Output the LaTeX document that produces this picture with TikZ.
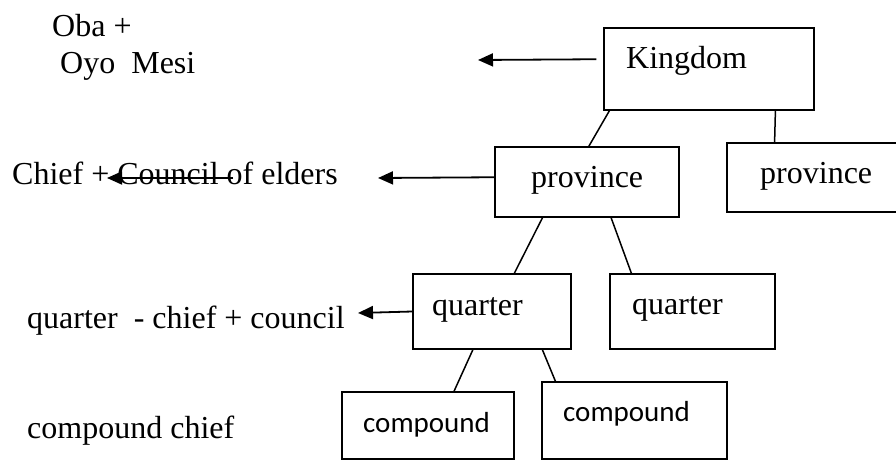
\documentclass[tikz,border=0pt]{standalone}
\usepackage{fontspec}
\setmainfont{Liberation Serif}
\newfontfamily\calib{Carlito}
\usetikzlibrary{arrows.meta,calc}
\begin{document}
\begin{tikzpicture}[x=1pt,y=-1pt,
  box/.style={draw,line width=1.5pt,rectangle,inner sep=0pt},
  lbl/.style={anchor=base west,inner sep=0pt,font=\fontsize{32}{38}\selectfont},
  clbl/.style={anchor=base west,inner sep=0pt,font=\calib\fontsize{29}{35}\selectfont},
  link/.style={line width=1.5pt},
  arr/.style={line width=1.8pt,-{Triangle[length=15pt,width=13pt]}}]
\useasboundingbox (0,0) rectangle (896,460);
\begin{scope}
\clip (0,0) rectangle (896,460);
% boxes
\node[box,minimum width=210pt,minimum height=82pt] (K) at (709,69) {};
\node[box,minimum width=184pt,minimum height=70pt] (P1) at (587,182) {};
\node[box,minimum width=183pt,minimum height=69pt] (P2) at (818.5,177.5) {};
\node[box,minimum width=158pt,minimum height=75pt] (Q1) at (492,311.5) {};
\node[box,minimum width=165pt,minimum height=75pt] (Q2) at (692.5,311.5) {};
\node[box,minimum width=172pt,minimum height=67pt] (C1) at (428,425.5) {};
\node[box,minimum width=185pt,minimum height=77pt] (C2) at (634.5,420.5) {};
\end{scope}
% box texts
\node[lbl] (tK) at (626,68) {Kingdom};
\node[lbl] (tP1) at (531,187) {province};
\node[lbl] (tP2) at (760,183) {province};
\node[lbl] (tQ1) at (432,315) {quarter};
\node[lbl] (tQ2) at (632,314) {quarter};
\node[clbl] (tC1) at (363,432) {compound};
\node[clbl] (tC2) at (563,421) {compound};
% left texts
\node[lbl] (oba) at (52,37) {Oba +};
\node[lbl] (oyo) at (60,74) {Oyo\ \ Mesi};
\node[lbl] (chief) at (12,184) {Chief + Council of elders};
\node[lbl] (qtr) at (27,328) {quarter\ \ - chief + council};
\node[lbl] (cmp) at (27,438) {compound chief};
% tree links
\draw[link] ($(K.south west)!0.029!(K.south east)$) -- ($(P1.north west)!0.51!(P1.north east)$);
\draw[link] ($(K.south west)!0.814!(K.south east)$) -- ($(P2.north west)!0.262!(P2.north east)$);
\draw[link] ($(P1.south west)!0.26!(P1.south east)$) -- ($(Q1.north west)!0.64!(Q1.north east)$);
\draw[link] ($(P1.south west)!0.63!(P1.south east)$) -- ($(Q2.north west)!0.133!(Q2.north east)$);
\draw[link] ($(Q1.south west)!0.38!(Q1.south east)$) -- ($(C1.north west)!0.65!(C1.north east)$);
\draw[link] ($(Q1.south west)!0.816!(Q1.south east)$) -- ($(C2.north west)!0.076!(C2.north east)$);
% arrows
\coordinate (kt) at (478,60);
\coordinate (pt) at (378,178);
\coordinate (qt) at (358,313);
\coordinate (ss) at (233,178);
\coordinate (st) at (107,178);
\draw[arr] ($(K.north west)+(-7,32)$) -- (kt);
\draw[arr] ($(P1.north west)+(0,31)$) -- (pt);
\draw[arr] (Q1.west) -- (qt);
\draw[arr] (ss) -- (st);
\end{tikzpicture}
\end{document}
